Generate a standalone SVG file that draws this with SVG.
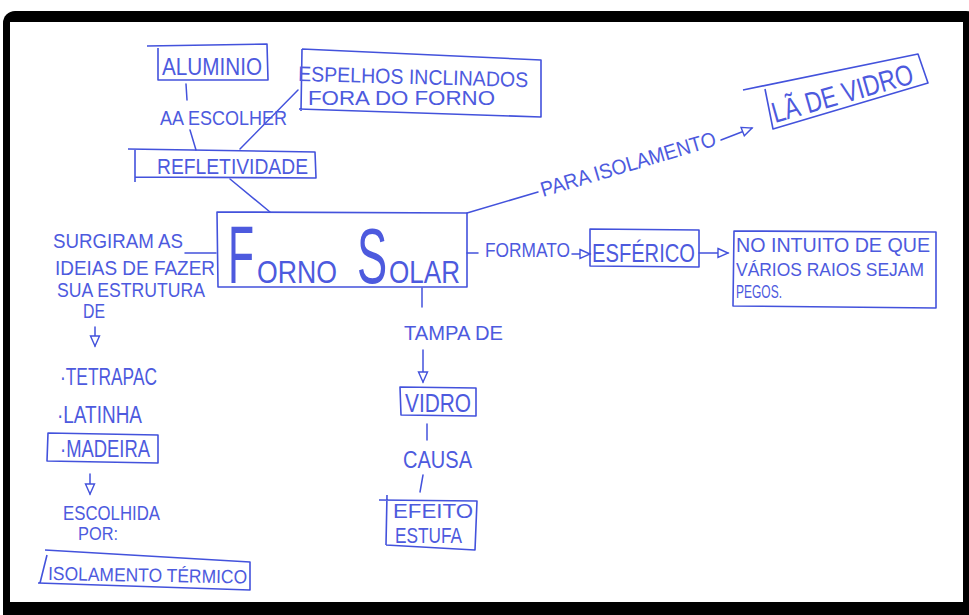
<svg xmlns="http://www.w3.org/2000/svg" width="969" height="615" viewBox="0 0 969 615">
  <style>
    .box { fill: none; stroke: #4352dc; stroke-width: 1.6; stroke-linejoin: round; }
    .ln { fill: none; stroke: #4352dc; stroke-width: 1.5; stroke-linecap: round; }
    .t { font-family: "Liberation Sans", Arial, sans-serif; fill: #4d5ade; }
  </style>
  <defs>
    <marker id="open" markerUnits="userSpaceOnUse" markerWidth="14" markerHeight="12" refX="11" refY="6" orient="auto">
      <path d="M1,1.5 L11,6 L1,10.5 Z" fill="#fff" stroke="#4352dc" stroke-width="1.4"/>
    </marker>
  </defs>

  <!-- frame -->
  <rect x="0" y="0" width="969" height="615" fill="#fff"/>
  <rect x="3" y="11" width="975" height="615" rx="12" fill="#000"/>
  <rect x="10" y="22" width="953" height="580" fill="#fff"/>

  <!-- connectors and link labels -->
  <g id="connectors">
    <path class="ln" d="M186,84 L187,100"/>
    <path class="ln" d="M190,130 L196,150"/>
    <path class="ln" d="M298,90 L240,149"/>
    <path class="ln" d="M230,179 L270,212"/>
    <path class="ln" d="M185,253 L216,253"/>
    <path class="ln" d="M467,213 L538,192"/>
    <path class="ln" d="M721,140 L752,128" marker-end="url(#open)"/>
    <path class="ln" d="M467,253 L478,253"/>
    <path class="ln" d="M572,254 L590,254" marker-end="url(#open)"/>
    <path class="ln" d="M699,253 L728,253" marker-end="url(#open)"/>
    <path class="ln" d="M422,288 L422,307"/>
    <path class="ln" d="M423,350 L423,382" marker-end="url(#open)"/>
    <path class="ln" d="M427,424 L427,440"/>
    <path class="ln" d="M423,475 L420,492"/>
    <path class="ln" d="M95,327 L95,346" marker-end="url(#open)"/>
    <path class="ln" d="M90,474 L90,494" marker-end="url(#open)"/>

    <text class="t" x="160" y="125" textLength="127" lengthAdjust="spacingAndGlyphs" font-size="20">AA ESCOLHER</text>
    <text class="t" transform="translate(543,197) rotate(-16.5)" x="0" y="0" textLength="182" lengthAdjust="spacingAndGlyphs" font-size="21">PARA ISOLAMENTO</text>
    <text class="t" x="485" y="257" textLength="85" lengthAdjust="spacingAndGlyphs" font-size="20">FORMATO</text>
    <text class="t" x="404" y="340" textLength="99" lengthAdjust="spacingAndGlyphs" font-size="21">TAMPA DE</text>
    <text class="t" x="403" y="468" textLength="69" lengthAdjust="spacingAndGlyphs" font-size="23">CAUSA</text>
    <text class="t" x="53" y="248" textLength="130" lengthAdjust="spacingAndGlyphs" font-size="20">SURGIRAM AS</text>
    <text class="t" x="55" y="275" textLength="160" lengthAdjust="spacingAndGlyphs" font-size="20">IDEIAS DE FAZER</text>
    <text class="t" x="57" y="297" textLength="148" lengthAdjust="spacingAndGlyphs" font-size="20">SUA ESTRUTURA</text>
    <text class="t" x="83" y="318" textLength="22" lengthAdjust="spacingAndGlyphs" font-size="20">DE</text>
    <text class="t" x="63" y="520" textLength="97" lengthAdjust="spacingAndGlyphs" font-size="21">ESCOLHIDA</text>
    <text class="t" x="78" y="540" textLength="40" lengthAdjust="spacingAndGlyphs" font-size="18">POR:</text>
  </g>

  <!-- nodes -->
  <g id="forno-solar">
    <path class="box" d="M217,212 L467,213 L467,287 L218,287 Z"/>
    <!-- tall initials, narrowed with a horizontal scale -->
    <text class="t" transform="translate(228,283) scale(0.52,1)" x="0" y="0" font-size="82">F</text>
    <text class="t" x="257" y="283" font-size="31" textLength="80" lengthAdjust="spacingAndGlyphs">ORNO</text>
    <text class="t" transform="translate(357,283) scale(0.58,1)" x="0" y="0" font-size="78">S</text>
    <text class="t" x="389" y="283" font-size="31" textLength="71" lengthAdjust="spacingAndGlyphs">OLAR</text>
  </g>

  <g id="aluminio">
    <path class="box" d="M147,46 L267,44 L268,80 L158,80 L158,48"/>
    <text class="t" x="162" y="75" textLength="100" lengthAdjust="spacingAndGlyphs" font-size="24">ALUMINIO</text>
  </g>

  <g id="espelhos">
    <path class="box" d="M302,49 L541,60 L541,117 L299,109 M302,49 L301,111"/>
    <text class="t" x="298" y="81" textLength="230" lengthAdjust="spacingAndGlyphs" font-size="21" transform="rotate(1.5 298 81)">ESPELHOS INCLINADOS</text>
    <text class="t" x="308" y="105" textLength="187" lengthAdjust="spacingAndGlyphs" font-size="21">FORA DO FORNO</text>
  </g>

  <g id="refletividade">
    <path class="box" d="M128,149 L315,152 L316,178 L135,177 M135,149 L135,182"/>
    <text class="t" x="157" y="174" textLength="151" lengthAdjust="spacingAndGlyphs" font-size="22">REFLETIVIDADE</text>
  </g>

  <g id="la-de-vidro">
    <path class="box" d="M743,90 L918,54 L928,83 L773,129 L765,89"/>
    <text class="t" transform="translate(775,123) rotate(-16)" x="0" y="0" textLength="146" lengthAdjust="spacingAndGlyphs" font-size="29">LÃ DE VIDRO</text>
  </g>

  <g id="esferico">
    <path class="box" d="M590,229 L699,230 L699,267 L590,266 Z"/>
    <text class="t" x="592" y="262" textLength="103" lengthAdjust="spacingAndGlyphs" font-size="26">ESFÉRICO</text>
  </g>

  <g id="no-intuito">
    <path class="box" d="M734,231 L936,232 L936,308 L733,306 Z"/>
    <text class="t" x="736" y="252" textLength="194" lengthAdjust="spacingAndGlyphs" font-size="20">NO INTUITO DE QUE</text>
    <text class="t" x="736" y="276" textLength="188" lengthAdjust="spacingAndGlyphs" font-size="19">VÁRIOS RAIOS SEJAM</text>
    <text class="t" x="736" y="298" textLength="46" lengthAdjust="spacingAndGlyphs" font-size="18">PEGOS.</text>
  </g>

  <g id="vidro">
    <path class="box" d="M400,387 L476,388 L476,416 L401,415 Z"/>
    <text class="t" x="405" y="412" textLength="66" lengthAdjust="spacingAndGlyphs" font-size="26">VIDRO</text>
  </g>

  <g id="efeito-estufa">
    <path class="box" d="M379,500 L477,501 L475,550 L386,545 M387,495 L386,545"/>
    <text class="t" x="393" y="518" textLength="80" lengthAdjust="spacingAndGlyphs" font-size="20">EFEITO</text>
    <text class="t" x="395" y="543" textLength="67" lengthAdjust="spacingAndGlyphs" font-size="22">ESTUFA</text>
  </g>

  <g id="tetrapac">
    <text class="t" x="60" y="385" textLength="97" lengthAdjust="spacingAndGlyphs" font-size="24">·TETRAPAC</text>
  </g>

  <g id="latinha">
    <text class="t" x="57" y="423" textLength="85" lengthAdjust="spacingAndGlyphs" font-size="23">·LATINHA</text>
  </g>

  <g id="madeira">
    <path class="box" d="M48,433 L158,435 L158,463 L47,461 Z"/>
    <text class="t" x="60" y="457" textLength="90" lengthAdjust="spacingAndGlyphs" font-size="23">·MADEIRA</text>
  </g>

  <g id="isolamento-termico">
    <path class="box" d="M45,550 L250,562 L250,590 L38,583 M47,555 L40,583"/>
    <text class="t" x="48" y="580" textLength="199" lengthAdjust="spacingAndGlyphs" font-size="19" transform="rotate(1 48 580)">ISOLAMENTO TÉRMICO</text>
  </g>
</svg>
